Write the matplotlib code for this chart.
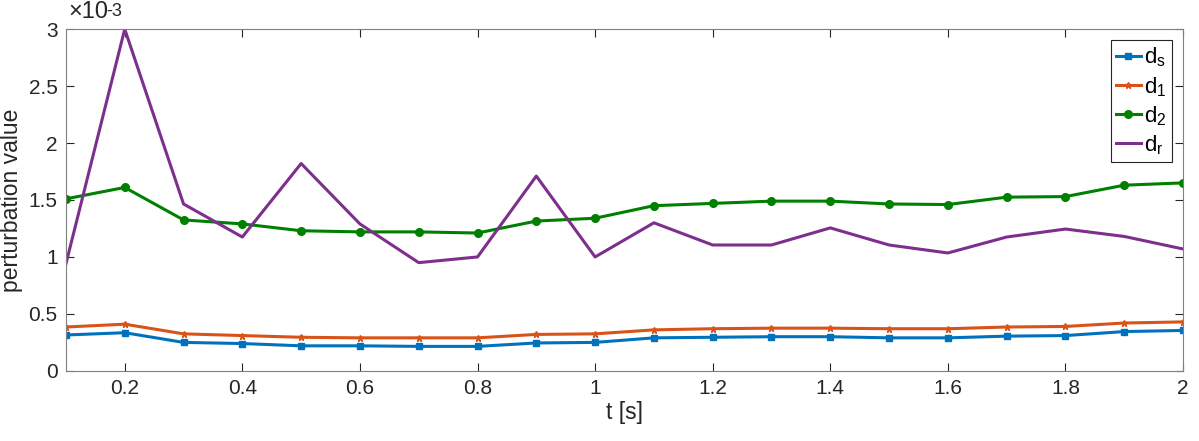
import numpy as np
import matplotlib
matplotlib.use("Agg")
import matplotlib.pyplot as plt

plt.rcParams['font.family'] = ['Liberation Sans', 'DejaVu Sans']
plt.rcParams['mathtext.fontset'] = 'custom'
plt.rcParams['mathtext.rm'] = 'Liberation Sans'
plt.rcParams['mathtext.it'] = 'Liberation Sans'

t = [0.1, 0.2, 0.3, 0.4, 0.5, 0.6, 0.7, 0.8, 0.9, 1.0,
     1.1, 1.2, 1.3, 1.4, 1.5, 1.6, 1.7, 1.8, 1.9, 2.0]
d_s = [0.315, 0.335, 0.25, 0.24, 0.22, 0.22, 0.215, 0.215, 0.245, 0.25,
       0.29, 0.295, 0.30, 0.30, 0.29, 0.29, 0.305, 0.31, 0.345, 0.355]
d_1 = [0.385, 0.41, 0.325, 0.31, 0.295, 0.29, 0.29, 0.29, 0.32, 0.325,
       0.36, 0.37, 0.375, 0.375, 0.37, 0.37, 0.385, 0.39, 0.42, 0.43]
d_2 = [1.51, 1.61, 1.325, 1.29, 1.23, 1.22, 1.22, 1.21, 1.315, 1.34,
       1.45, 1.47, 1.49, 1.49, 1.465, 1.46, 1.525, 1.53, 1.63, 1.65]
d_r = [0.94, 3.0, 1.465, 1.175, 1.82, 1.29, 0.95, 1.0, 1.71, 1.0,
       1.30, 1.105, 1.105, 1.255, 1.105, 1.035, 1.175, 1.245, 1.18, 1.07]
scale = 1e-3
dark = (0.15, 0.15, 0.15)

fig = plt.figure(figsize=(11.99, 4.41), dpi=100)
ax = fig.add_axes([0.055, 0.159, 0.9317, 0.775])

ax.plot(t, np.array(d_s)*scale, color=(0, 0.447, 0.741), lw=2.2, marker='s', ms=4.5, label='d$_s$')
ax.plot(t, np.array(d_1)*scale, color=(0.85, 0.325, 0.098), lw=2.2, marker='*', ms=5, label='d$_1$')
ax.plot(t, np.array(d_2)*scale, color=(0, 0.5, 0), lw=2.2, marker='o', ms=5.5, label='d$_2$')
ax.plot(t, np.array(d_r)*scale, color=(0.494, 0.184, 0.556), lw=2.2, label='d$_r$')

ax.set_xlim(0.1, 2)
ax.set_ylim(0, 3e-3)
ax.set_xticks([0.2, 0.4, 0.6, 0.8, 1, 1.2, 1.4, 1.6, 1.8, 2])
ax.set_xticklabels(['0.2', '0.4', '0.6', '0.8', '1', '1.2', '1.4', '1.6', '1.8', '2'])
yt = [0, 0.5, 1, 1.5, 2, 2.5, 3]
ax.set_yticks(np.array(yt)*scale)
ax.set_yticklabels(['0', '0.5', '1', '1.5', '2', '2.5', '3'])
ax.tick_params(direction='in', top=True, right=True, length=6, width=0.8,
               colors=dark, labelsize=15, pad=6)
for s in ax.spines.values():
    s.set_color((0.5, 0.5, 0.5))
    s.set_linewidth(0.8)

ax.set_xlabel('t [s]', fontsize=16.5, color=dark, labelpad=2)
ax.set_ylabel('perturbation value', fontsize=16.5, color=dark, labelpad=4)
# exponent label, MATLAB style
fig.text(0.0567, 0.948, '\u00d710', fontsize=17, color=dark, va='bottom', ha='left')
fig.text(0.0885, 0.993, '-3', fontsize=13, color=dark, va='top', ha='left')

leg = ax.legend(loc='upper right', fontsize=16, fancybox=False, framealpha=1,
                edgecolor=dark, handlelength=1.1, handletextpad=0.15,
                borderpad=0.25, labelspacing=0.25, borderaxespad=0.5)
leg.get_frame().set_linewidth(0.8)

fig.savefig('out.png', dpi=100)
